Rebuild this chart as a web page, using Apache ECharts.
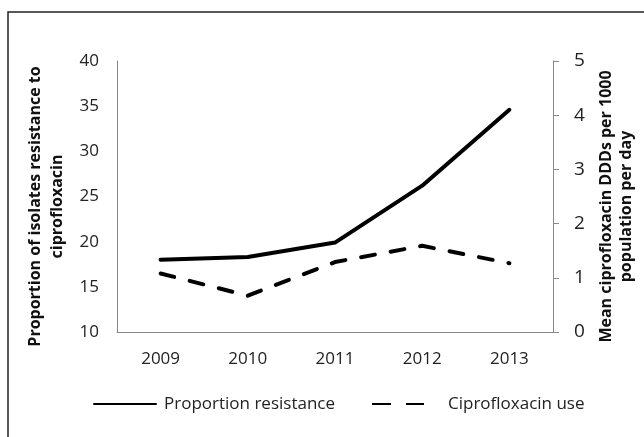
<!DOCTYPE html>
<html>
<head>
<meta charset="utf-8">
<script src="https://cdn.jsdelivr.net/npm/echarts@6/dist/echarts.min.js"></script>
<style>
  html, body { margin: 0; padding: 0; background: #fff; }
  #main { width: 644px; height: 437px; }
</style>
</head>
<body>
<div id="main"></div>
<script>
var years = ['2009', '2010', '2011', '2012', '2013'];
var resistance = [18.0, 18.3, 19.9, 26.2, 34.6];
var cipUse = [1.08, 0.67, 1.29, 1.59, 1.27];
var leftTicks = [10, 40, 5];
var rightTicks = [0, 5, 1];

var font = 'Open Sans';
var myChart = echarts.init(document.getElementById('main'));

var legendText = { fontFamily: font, fontSize: 17, color: '#222', lineHeight: 20 };

var option = {
    backgroundColor: '#fff',
    animation: false,
    textStyle: { fontFamily: font },
    graphic: [{
        type: 'polyline',
        shape: { points: [[8, 440], [8, 12], [650, 12]] },
        style: { stroke: '#222', lineWidth: 1.5, fill: null }
    }],
    grid: { left: 117, right: 91, top: 61, bottom: 105, outerBoundsMode: 'none', containLabel: false },
    legend: [{
        top: 394,
        left: 93,
        padding: 0,
        itemWidth: 62,
        itemHeight: 4,
        itemStyle: { opacity: 0 },
        textStyle: Object.assign({ padding: [0, 0, 0, 3] }, legendText),
        data: ['Proportion resistance']
    }, {
        top: 394,
        left: 371,
        padding: 0,
        itemWidth: 52,
        itemHeight: 4,
        itemStyle: { opacity: 0 },
        lineStyle: { type: [19, 15], cap: 'butt' },
        textStyle: Object.assign({ padding: [0, 0, 0, 19] }, legendText),
        data: ['Ciprofloxacin use']
    }],
    xAxis: {
        type: 'category',
        data: years,
        boundaryGap: true,
        axisLine: { lineStyle: { color: '#888', width: 1 } },
        axisTick: { show: false },
        axisLabel: { fontSize: 17, color: '#222', margin: 19, fontFamily: font }
    },
    yAxis: [{
        type: 'value',
        min: leftTicks[0],
        max: leftTicks[1],
        interval: leftTicks[2],
        name: 'Proportion of isolates resistance to\nciprofloxacin',
        nameLocation: 'middle',
        nameGap: 47,
        nameRotate: 90,
        nameTextStyle: { fontSize: 16, fontWeight: 'bold', color: '#111', lineHeight: 22, fontFamily: font, padding: [0, 20, 0, 0] },
        axisLine: { show: true, lineStyle: { color: '#888', width: 1 } },
        axisTick: { show: false },
        splitLine: { show: false },
        axisLabel: { fontSize: 17, color: '#222', margin: 18, fontFamily: font }
    }, {
        type: 'value',
        position: 'right',
        min: rightTicks[0],
        max: rightTicks[1],
        interval: rightTicks[2],
        name: 'Mean ciprofloxacin DDDs per 1000\npopulation per day',
        nameLocation: 'middle',
        nameGap: 43,
        nameRotate: 90,
        nameTextStyle: { fontSize: 16, fontWeight: 'bold', color: '#111', lineHeight: 20, fontFamily: font, padding: [0, 20, 0, 0] },
        axisLine: { show: true, lineStyle: { color: '#888', width: 1 } },
        axisTick: { show: true, inside: false, length: 6, lineStyle: { color: '#888' } },
        splitLine: { show: false },
        axisLabel: { fontSize: 19, color: '#222', margin: 21, fontFamily: font }
    }],
    series: [{
        name: 'Proportion resistance',
        type: 'line',
        yAxisIndex: 0,
        data: resistance,
        symbol: 'none',
        lineStyle: { color: '#000', width: 4, cap: 'round', join: 'round' },
        itemStyle: { color: '#000' }
    }, {
        name: 'Ciprofloxacin use',
        type: 'line',
        yAxisIndex: 1,
        data: cipUse,
        symbol: 'none',
        lineStyle: { color: '#000', width: 4, type: [14, 16], cap: 'round', join: 'round' },
        itemStyle: { color: '#000' }
    }]
};

myChart.setOption(option);
</script>
</body>
</html>
